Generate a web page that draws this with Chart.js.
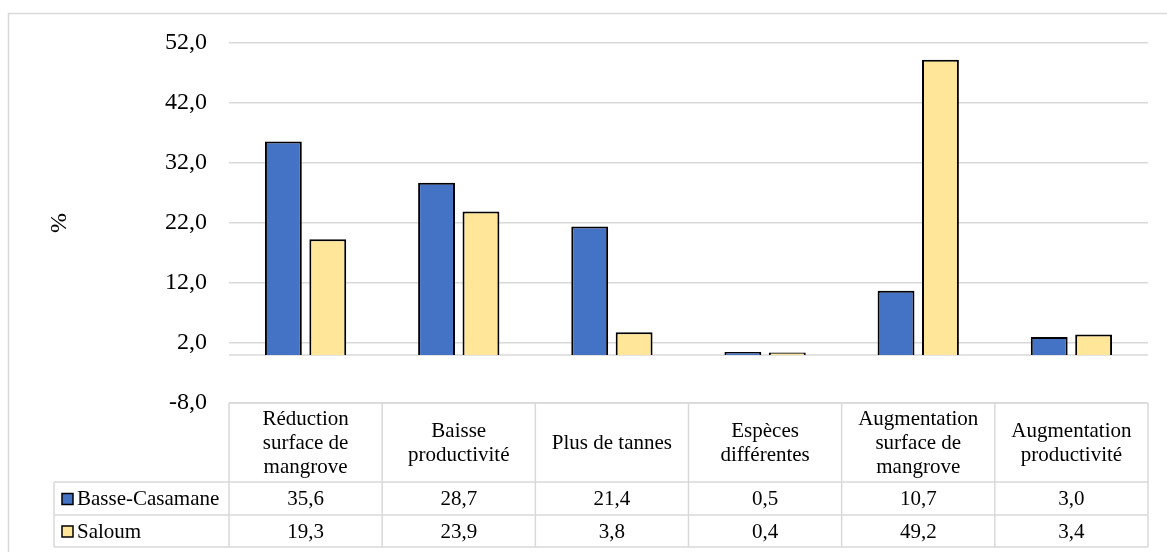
<!DOCTYPE html>
<html>
<head>
<meta charset="utf-8">
<script src="https://cdn.jsdelivr.net/npm/chart.js@4.4.1/dist/chart.umd.min.js"></script>
<style>
  body { margin: 0; background: #fff; }
</style>
</head>
<body>
<canvas id="chartMangrove" width="1167" height="552"></canvas>
<script>
// categories (one entry per line of the table header)
const categories = [
  ['Réduction', 'surface de', 'mangrove'],
  ['Baisse', 'productivité'],
  ['Plus de tannes'],
  ['Espèces', 'différentes'],
  ['Augmentation', 'surface de', 'mangrove'],
  ['Augmentation', 'productivité']
];

// series
const seriesNames = ['Basse-Casamane', 'Saloum'];
const basseCasamane = [35.6, 28.7, 21.4, 0.5, 10.7, 3.0];
const saloum = [19.3, 23.9, 3.8, 0.4, 49.2, 3.4];
const seriesColors = ['#4472C4', '#FFE699'];

// y axis
const yMin = -8;
const yMax = 52;
const yStep = 10;

const fmt = v => v.toFixed(1).replace('.', ',');
const FONT = "'Liberation Serif', 'Times New Roman', serif";
const GRID = '#d9d9d9';

// table under the chart + frame + zero line
const tablePlugin = {
  id: 'dataTable',
  beforeDraw(chart) {
    const c = chart.ctx;
    c.save();
    c.fillStyle = '#fff';
    c.fillRect(0, 0, chart.width, chart.height);
    c.strokeStyle = GRID;
    c.lineWidth = 1.5;
    c.strokeRect(8.5, 13.5, chart.width + 20, chart.height + 20);
    c.restore();
  },
  beforeDatasetsDraw(chart) {
    const c = chart.ctx;
    const area = chart.chartArea;
    const y0 = chart.scales.y.getPixelForValue(0);
    c.save();
    c.strokeStyle = GRID;
    c.lineWidth = 1.5;
    c.beginPath();
    c.moveTo(area.left, y0);
    c.lineTo(area.right, y0);
    c.stroke();
    c.restore();
  },
  afterDraw(chart) {
    const c = chart.ctx;
    const area = chart.chartArea;
    const x = chart.scales.x;
    const colW = x.getPixelForValue(1) - x.getPixelForValue(0);
    const edges = [];
    for (let i = 0; i <= categories.length; i++) {
      edges.push(x.getPixelForValue(i) - colW / 2);
    }
    const top = area.bottom;
    const rowH = [79, 33, 32];
    const r1 = top + rowH[0];
    const r2 = r1 + rowH[1];
    const r3 = r2 + rowH[2];
    const legLeft = 54;

    c.save();
    c.strokeStyle = GRID;
    c.lineWidth = 1.5;
    c.beginPath();
    c.moveTo(edges[0], top); c.lineTo(edges[edges.length - 1], top);
    [r1, r2, r3].forEach(y => { c.moveTo(legLeft, y); c.lineTo(edges[edges.length - 1], y); });
    c.moveTo(legLeft, r1); c.lineTo(legLeft, r3);
    edges.forEach(e => { c.moveTo(e, top); c.lineTo(e, r3); });
    c.stroke();

    c.fillStyle = '#000';
    c.font = '21px ' + FONT;
    c.textAlign = 'center';
    c.textBaseline = 'middle';
    const lh = 24;
    categories.forEach((lines, i) => {
      const cx = x.getPixelForValue(i);
      const cy = (top + r1) / 2 + 1;
      lines.forEach((t, j) => {
        c.fillText(t, cx, cy + (j - (lines.length - 1) / 2) * lh);
      });
    });

    const rows = [basseCasamane, saloum];
    const rowY = [(r1 + r2) / 2 + 1, (r2 + r3) / 2 + 1];
    rows.forEach((vals, k) => {
      c.textAlign = 'center';
      vals.forEach((v, i) => {
        c.fillText(fmt(v), x.getPixelForValue(i), rowY[k]);
      });
      // legend key
      c.fillStyle = seriesColors[k];
      c.fillRect(62, rowY[k] - 6, 11, 11);
      c.strokeStyle = '#000';
      c.lineWidth = 1.5;
      c.strokeRect(62, rowY[k] - 6, 11, 11);
      c.fillStyle = '#000';
      c.textAlign = 'left';
      c.fillText(seriesNames[k], 77, rowY[k]);
    });
    c.restore();
  }
};

const ctx = document.getElementById('chartMangrove');
const chartMangrove = new Chart(ctx, {
  type: 'bar',
  data: {
    labels: categories,
    datasets: [{
      label: seriesNames[0],
      data: basseCasamane,
      backgroundColor: seriesColors[0],
      borderColor: '#000',
      borderWidth: 2,
      categoryPercentage: 0.58,
      barPercentage: 0.83
    }, {
      label: seriesNames[1],
      data: saloum,
      backgroundColor: seriesColors[1],
      borderColor: '#000',
      borderWidth: 2,
      categoryPercentage: 0.58,
      barPercentage: 0.83
    }]
  },
  options: {
    responsive: false,
    animation: false,
    layout: {
      padding: { left: 0, right: 19, top: 43, bottom: 149 }
    },
    plugins: {
      legend: { display: false },
      tooltip: { enabled: false }
    },
    scales: {
      x: {
        display: false
      },
      y: {
        min: yMin,
        max: yMax,
        afterFit: s => { s.width = 229; },
        afterBuildTicks: s => {
          s.ticks = [];
          for (let v = yMin; v <= yMax; v += yStep) s.ticks.push({ value: v });
        },
        ticks: {
          padding: 22,
          color: '#000',
          font: { family: FONT, size: 24 },
          callback: v => fmt(v)
        },
        grid: {
          color: GRID,
          lineWidth: 1.5,
          drawTicks: false
        },
        border: { display: false },
        title: {
          display: true,
          text: '%',
          color: '#000',
          font: { family: FONT, size: 24 },
          padding: { top: 45, bottom: 0 }
        }
      }
    }
  },
  plugins: [tablePlugin]
});
</script>
</body>
</html>
